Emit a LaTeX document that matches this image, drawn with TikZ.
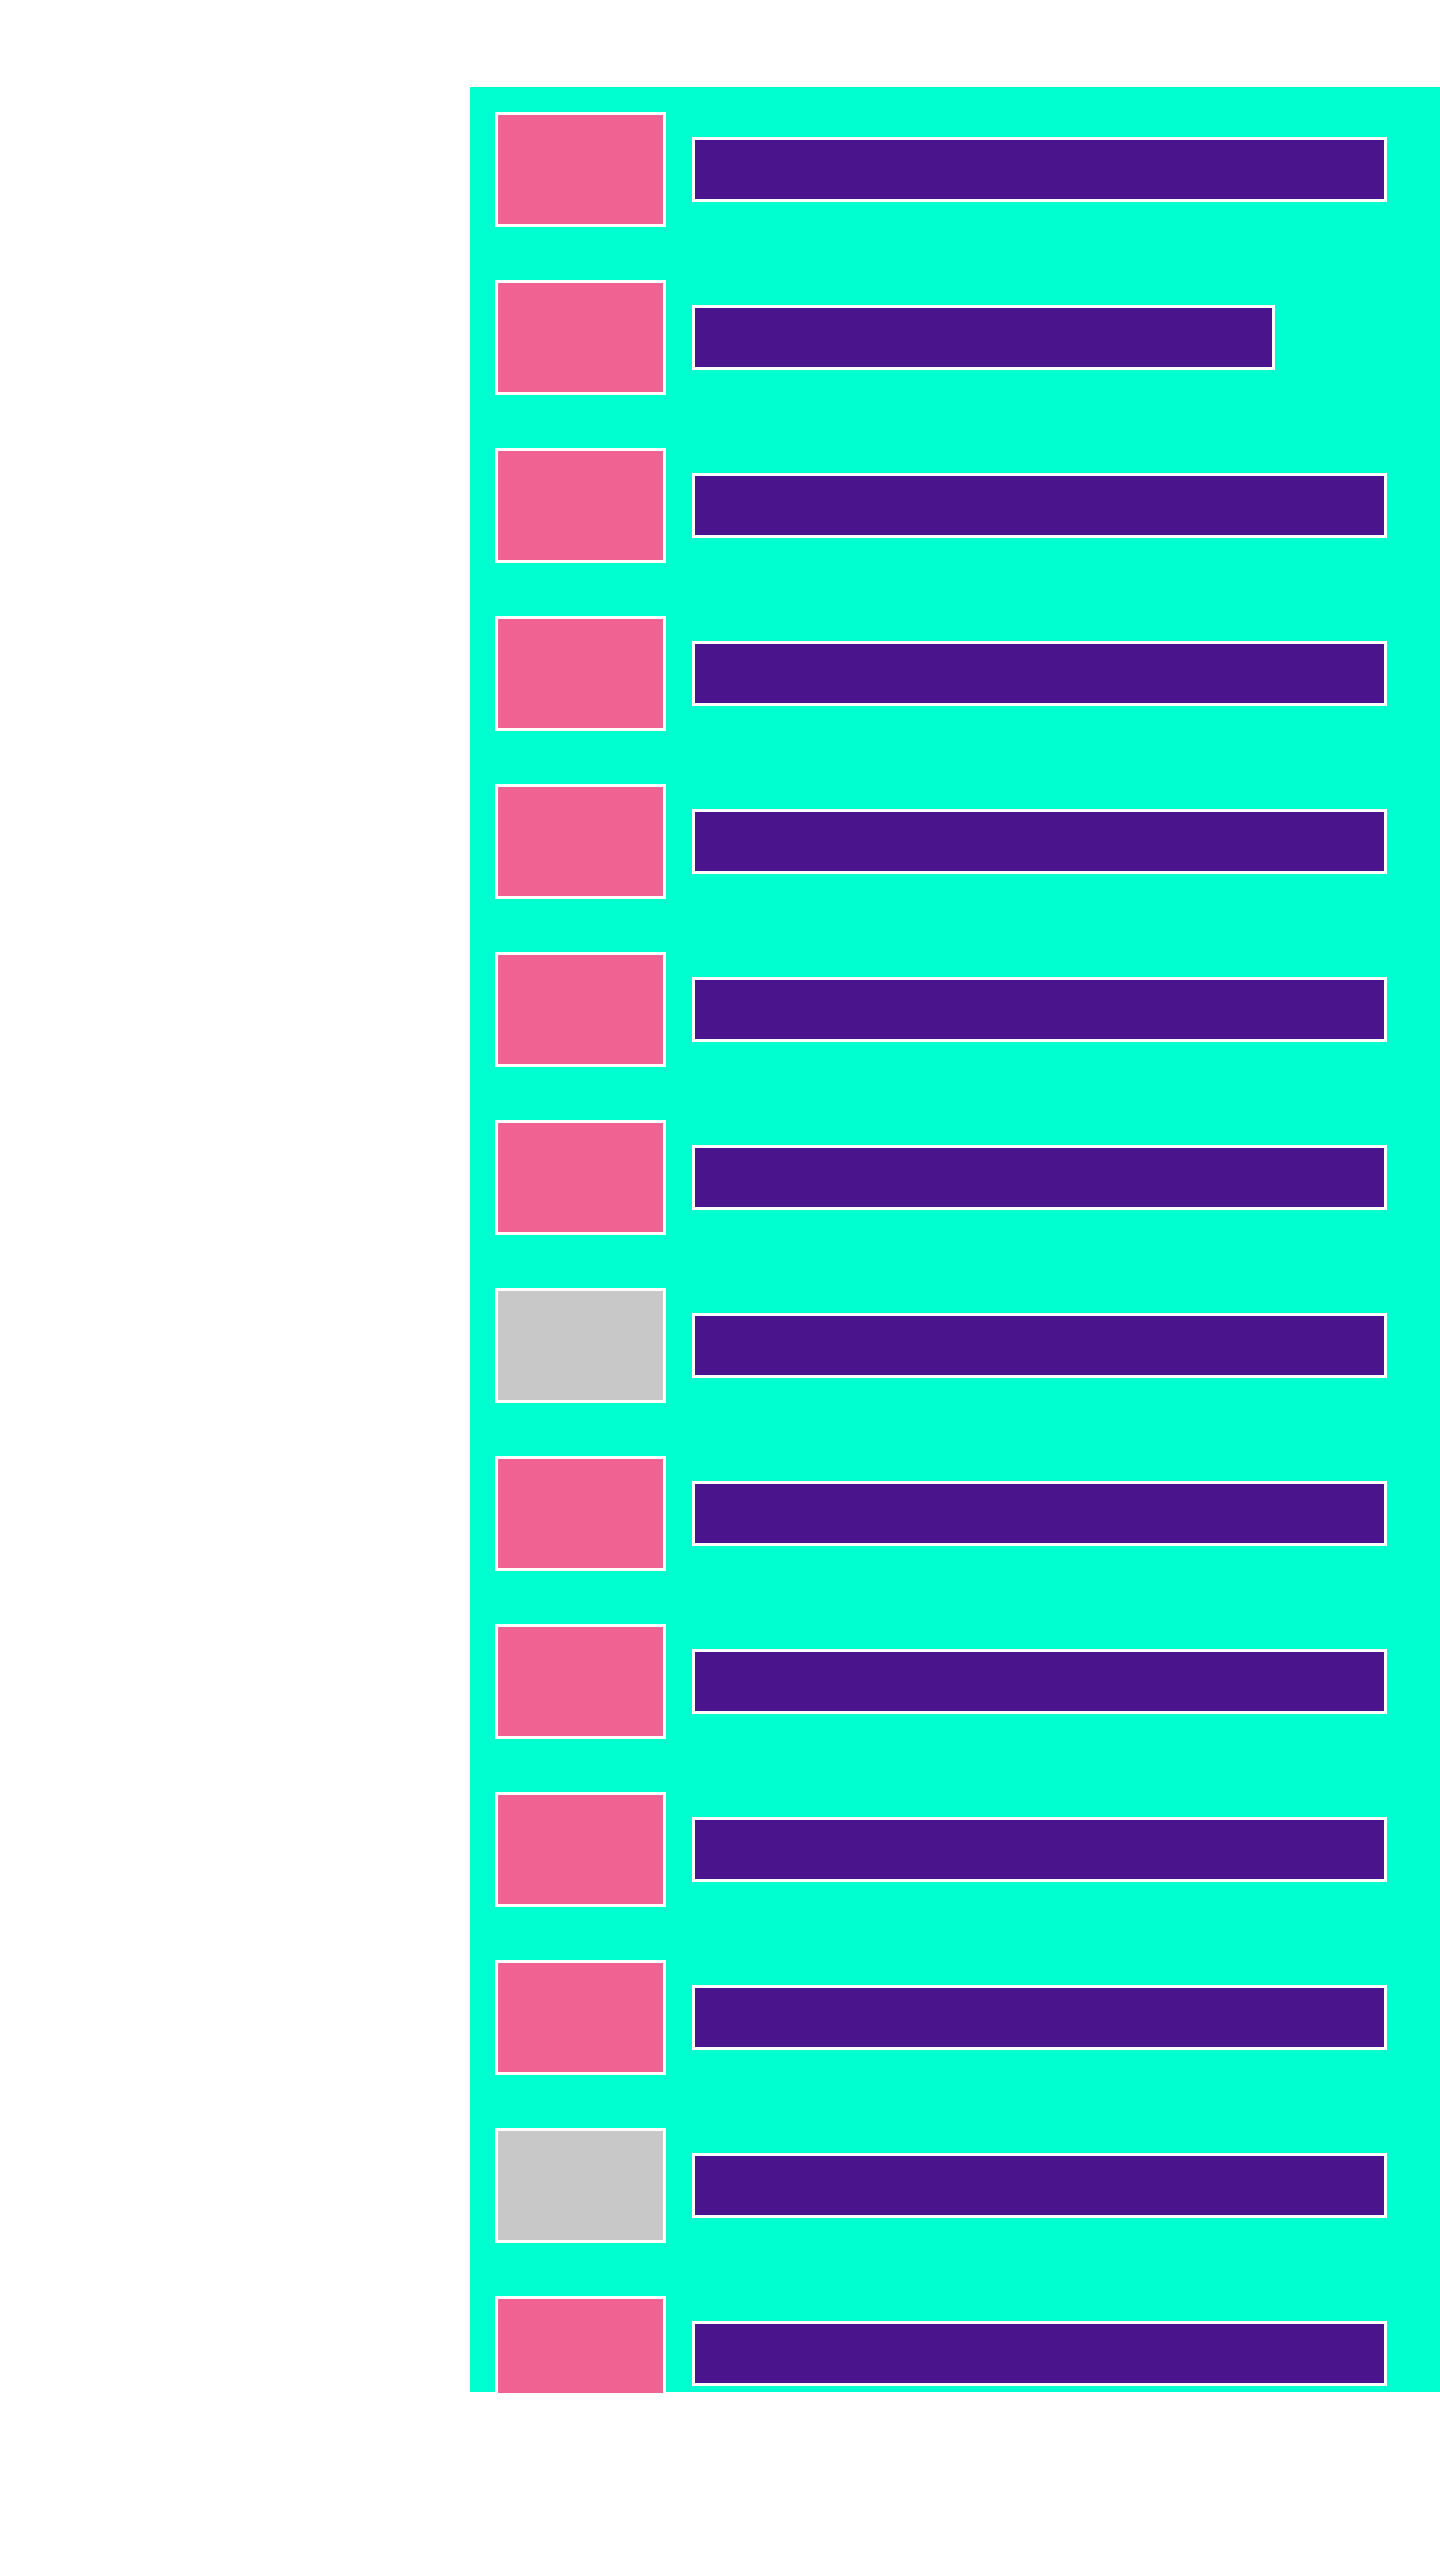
\documentclass[tikz,border=0pt]{standalone}
\usepackage{tikz}
\usetikzlibrary{positioning}
\definecolor{panelcyan}{HTML}{00FFD0}
\definecolor{rowpink}{HTML}{F06292}
\definecolor{rowgrey}{HTML}{C8C8C8}
\definecolor{barpurple}{HTML}{4A148C}
\tikzset{
  rowbox/.style={draw=white, line width=0.3mm, fill=rowpink, minimum width=16.8mm, minimum height=11.2mm, inner sep=0pt, outer sep=0pt},
  greybox/.style={rowbox, fill=rowgrey},
  rowbar/.style={draw=white, line width=0.3mm, fill=barpurple, minimum height=6.2mm, inner sep=0pt, outer sep=0pt},
}

\begin{document}
\begin{tikzpicture}[x=0.1mm, y=-0.1mm]
\useasboundingbox (0,0) rectangle (1440,2560);
\fill[white] (0,0) rectangle (1440,2560);
\fill[panelcyan] (470,87) rectangle (1440,2392);
\begin{scope}
  \clip (470,87) rectangle (1440,2392);
  % one row: status box, then its bar
  \foreach \i/\st/\w in {1/rowbox/69.2mm, 2/rowbox/58mm, 3/rowbox/69.2mm, 4/rowbox/69.2mm,
      5/rowbox/69.2mm, 6/rowbox/69.2mm, 7/rowbox/69.2mm, 8/greybox/69.2mm, 9/rowbox/69.2mm,
      10/rowbox/69.2mm, 11/rowbox/69.2mm, 12/rowbox/69.2mm, 13/greybox/69.2mm, 14/rowbox/69.2mm}{
    \node[\st] (box\i) at (580.5, {169+168*(\i-1)}) {};
    \node[rowbar, minimum width=\w, right=2.9mm of box\i] (bar\i) {};
  }
\end{scope}
\end{tikzpicture}
\end{document}
